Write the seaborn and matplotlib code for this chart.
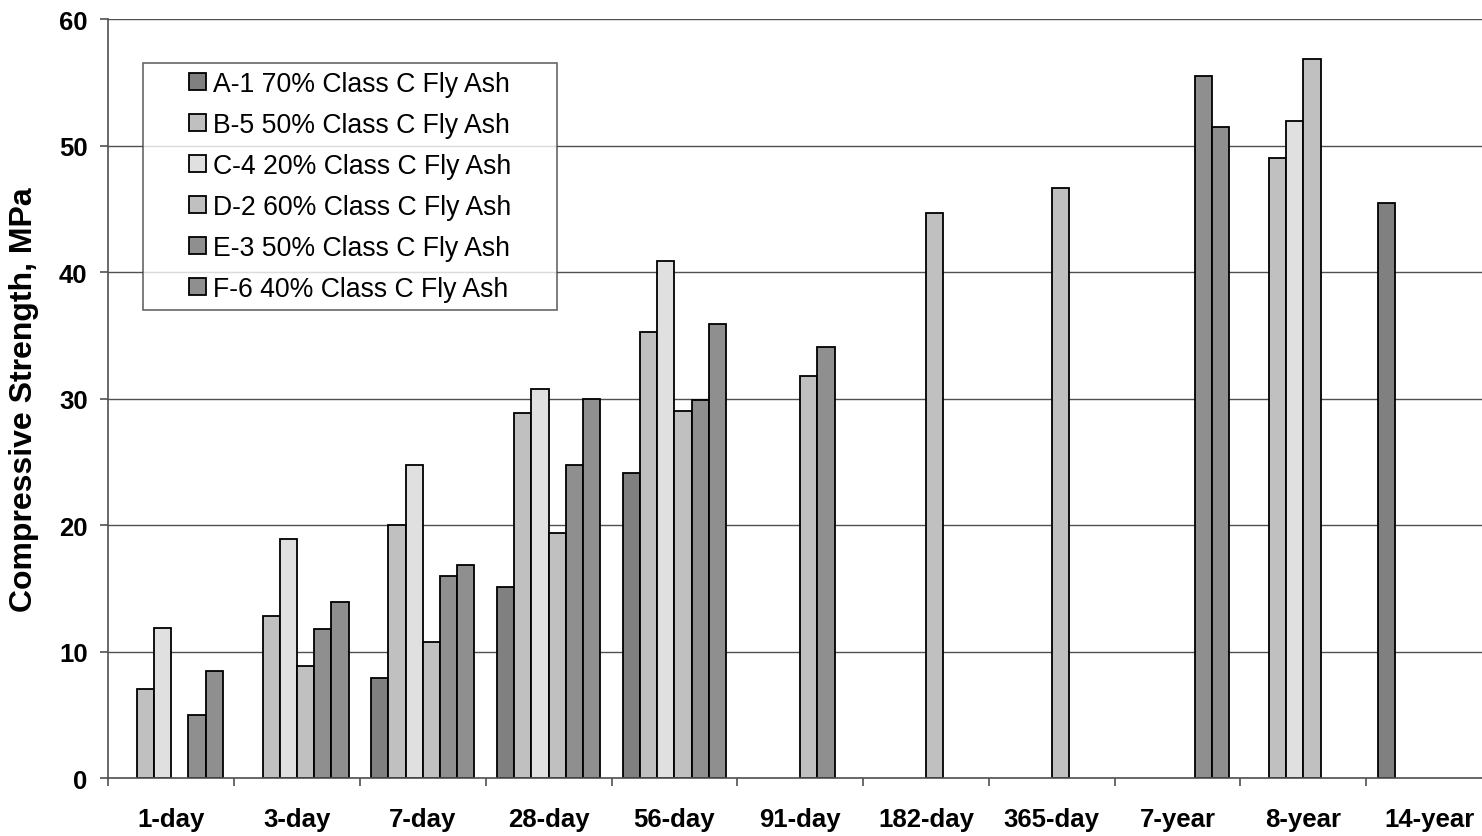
import matplotlib
matplotlib.use('Agg')
import matplotlib.pyplot as plt
from matplotlib.path import Path
import seaborn as sns
import pandas as pd
import numpy as np

# chart data
ages = ['1-day', '3-day', '7-day', '28-day', '56-day', '91-day',
        '182-day', '365-day', '7-year', '8-year', '14-year']
mixes = ['A-1 70% Class C Fly Ash', 'B-5 50% Class C Fly Ash',
         'C-4 20% Class C Fly Ash', 'D-2 60% Class C Fly Ash',
         'E-3 50% Class C Fly Ash', 'F-6 40% Class C Fly Ash']
nan = np.nan
a1 = [nan, nan, 7.9, 15.1, 24.1, nan, nan, nan, nan, nan, 45.5]
b5 = [7.1, 12.8, 20.0, 28.9, 35.3, nan, nan, nan, nan, 49.0, nan]
c4 = [11.9, 18.9, 24.8, 30.8, 40.9, nan, nan, nan, nan, 52.0, nan]
d2 = [nan, 8.9, 10.8, 19.4, 29.0, 31.8, 44.7, 46.7, nan, 56.9, nan]
e3 = [5.0, 11.8, 16.0, 24.8, 29.9, 34.1, nan, nan, 55.5, nan, nan]
f6 = [8.5, 13.9, 16.9, 30.0, 35.9, nan, nan, nan, 51.5, nan, nan]
colors = ['#808080', '#c0c0c0', '#e0e0e0', '#c0c0c0', '#8f8f8f', '#8f8f8f']

rows = []
for mix, vals in zip(mixes, [a1, b5, c4, d2, e3, f6]):
    for age, v in zip(ages, vals):
        rows.append({'age': age, 'mix': mix, 'strength': v})
df = pd.DataFrame(rows).dropna()

plt.rcParams['font.family'] = ['Liberation Sans', 'DejaVu Sans']
grid_col = '#505050'


def wide_box(x0, y0, width, height, mutation_size):
    # legend frame with extra room left and right of the entries
    dx = 1.42 * mutation_size
    x0 -= dx
    x1 = x0 + width + 2 * dx
    y1 = y0 + height
    return Path([(x0, y0), (x1, y0), (x1, y1), (x0, y1), (x0, y0)], closed=True)


fig = plt.figure(figsize=(14.82, 8.37), dpi=100)
ax = fig.add_axes([0.0731, 0.0689, 0.9337, 0.9068])

sns.barplot(data=df, x='age', y='strength', hue='mix', order=ages, hue_order=mixes,
            palette=colors, saturation=1, width=0.82, edgecolor='black', linewidth=1.3,
            errorbar=None, ax=ax)

ax.set_xlim(-0.5, 10.5)
ax.set_ylim(0, 60)
ax.set_yticks(range(0, 70, 10))
ax.yaxis.grid(True, color=grid_col, linewidth=1)
ax.set_axisbelow(True)
for s in ['top', 'right']:
    ax.spines[s].set_visible(False)
for s in ['left', 'bottom']:
    ax.spines[s].set_color(grid_col)
    ax.spines[s].set_linewidth(1.2)

ax.set_xticks(range(len(ages)))
ax.set_xticklabels(ages, fontsize=18.5, fontweight='bold')
ax.set_xticks(np.arange(-0.5, len(ages), 1), minor=True)
ax.tick_params(axis='x', which='major', length=0, pad=21)
ax.tick_params(axis='x', which='minor', length=6, color=grid_col, width=1.2)
ax.tick_params(axis='y', length=6, color=grid_col, width=1.2, pad=9, labelsize=18.5)
for t in ax.get_yticklabels():
    t.set_fontweight('bold')

ax.set_xlabel('')
ax.set_ylabel('Compressive Strength, MPa', fontsize=23, fontweight='bold', labelpad=14)

sns.move_legend(ax, 'upper left', bbox_to_anchor=(0.0525, 0.9424), borderaxespad=0,
                title=None, fontsize=19.2, frameon=True, fancybox=False,
                handlelength=0.64, handleheight=0.64, handletextpad=0.26,
                labelspacing=0.56, borderpad=0.3)
leg = ax.get_legend()
leg.get_frame().set_boxstyle(wide_box)
leg.get_frame().set_edgecolor('#404040')
leg.get_frame().set_linewidth(1.2)
for h in leg.legend_handles:
    h.set_edgecolor('black')
    h.set_linewidth(1.3)

fig.savefig('out.png', dpi=100)
